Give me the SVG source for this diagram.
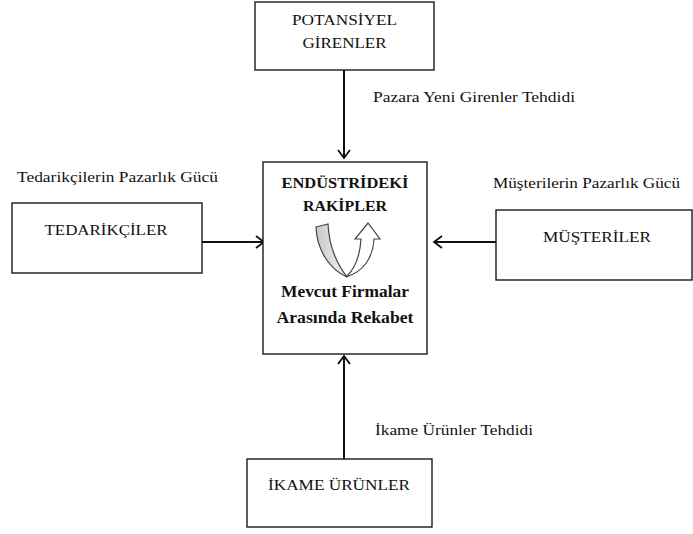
<svg xmlns="http://www.w3.org/2000/svg" width="693" height="534" viewBox="0 0 693 534">
<defs>
<style>
.box{fill:#fff;stroke:#1a1a1a;stroke-width:1.4}
.t{font-size:15px;fill:#111;text-anchor:middle}
.lbl{font-size:15px;fill:#111}
.b{font-weight:bold;fill:#111;text-anchor:middle}
.con{stroke:#111;stroke-width:2;fill:none}
</style>
<marker id="arr" markerUnits="userSpaceOnUse" markerWidth="12" markerHeight="14" refX="9" refY="7" orient="auto">
<path d="M1,1 L9,7 L1,13" fill="none" stroke="#111" stroke-width="1.8"/>
</marker>
<linearGradient id="gband" x1="0" y1="0" x2="1" y2="0">
<stop offset="0" stop-color="#c9c9c9"/>
<stop offset="1" stop-color="#f2f2f2"/>
</linearGradient>
</defs>
<rect width="693" height="534" fill="#fff"/>
<g id="connectors">
<line class="con" x1="344" y1="70" x2="344" y2="158" marker-end="url(#arr)"/>
<line class="con" x1="202" y1="242" x2="264" y2="242" marker-end="url(#arr)"/>
<line class="con" x1="496" y1="242" x2="434" y2="242" marker-end="url(#arr)"/>
<line class="con" x1="344" y1="459" x2="344" y2="356" marker-end="url(#arr)"/>
</g>
<g font-family="'Liberation Serif', 'Times New Roman', serif">
<g id="potansiyel">
<rect class="box" x="255" y="2" width="179" height="68"/>
<text class="t" x="344.5" y="25" textLength="105" lengthAdjust="spacingAndGlyphs">POTANSİYEL</text>
<text class="t" x="344.5" y="48" textLength="84" lengthAdjust="spacingAndGlyphs">GİRENLER</text>
</g>
<g id="rakipler">
<rect class="box" x="263" y="162" width="164" height="192"/>
<text class="b" x="345" y="188" font-size="15" textLength="127" lengthAdjust="spacingAndGlyphs">ENDÜSTRİDEKİ</text>
<text class="b" x="345" y="211" font-size="15" textLength="84" lengthAdjust="spacingAndGlyphs">RAKİPLER</text>
<path d="M316,227 L328,224 C329,247 337,264 347,277 C331,270 317,252 316,227 Z" fill="url(#gband)" stroke="#444" stroke-width="1.2"/>
<path d="M346,277 C356,268 360,255 361,239 L355,239 L368,223 L380,239 L374,239 C373,258 363,272 346,277 Z" fill="#fff" stroke="#444" stroke-width="1.2"/>
<text class="b" x="345" y="297" font-size="17" textLength="128" lengthAdjust="spacingAndGlyphs">Mevcut Firmalar</text>
<text class="b" x="345" y="323" font-size="17" textLength="137" lengthAdjust="spacingAndGlyphs">Arasında Rekabet</text>
</g>
<g id="tedarikciler">
<rect class="box" x="12" y="203" width="190" height="70"/>
<text class="t" x="106" y="235" textLength="123" lengthAdjust="spacingAndGlyphs">TEDARİKÇİLER</text>
</g>
<g id="musteriler">
<rect class="box" x="496" y="210" width="196" height="70"/>
<text class="t" x="597" y="242" textLength="108" lengthAdjust="spacingAndGlyphs">MÜŞTERİLER</text>
</g>
<g id="ikame">
<rect class="box" x="247" y="459" width="185" height="68"/>
<text class="t" x="339" y="490" textLength="142" lengthAdjust="spacingAndGlyphs">İKAME ÜRÜNLER</text>
</g>
<g id="labels">
<text class="lbl" x="373" y="102" textLength="202" lengthAdjust="spacingAndGlyphs">Pazara Yeni Girenler Tehdidi</text>
<text class="lbl" x="17" y="182" textLength="201" lengthAdjust="spacingAndGlyphs">Tedarikçilerin Pazarlık Gücü</text>
<text class="lbl" x="493" y="188" textLength="187" lengthAdjust="spacingAndGlyphs">Müşterilerin Pazarlık Gücü</text>
<text class="lbl" x="375" y="435" textLength="158" lengthAdjust="spacingAndGlyphs">İkame Ürünler Tehdidi</text>
</g>
</g>
</svg>
